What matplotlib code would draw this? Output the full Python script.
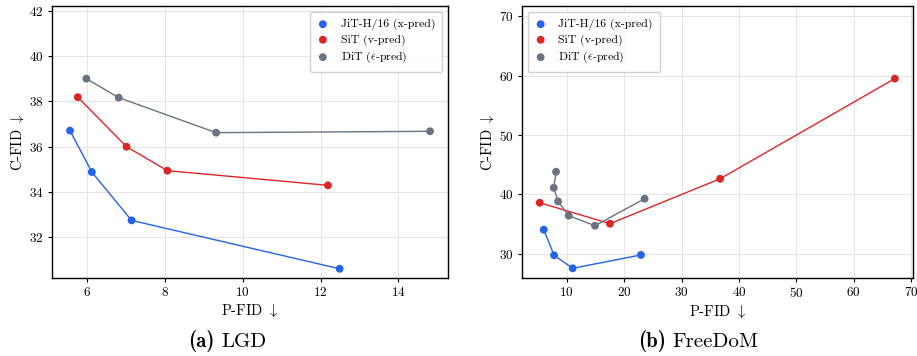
import matplotlib
matplotlib.use("Agg")
import matplotlib.pyplot as plt

plt.rcParams['font.family'] = ['cmr10', 'DejaVu Serif']
plt.rcParams['mathtext.fontset'] = 'cm'
plt.rcParams['axes.formatter.use_mathtext'] = True
plt.rcParams['axes.unicode_minus'] = False

series_names = ["JiT-H/16 (x-pred)", "SiT (v-pred)", r"DiT ($\epsilon$-pred)"]
colors = ["#2563eb", "#dc2626", "#6b7280"]

# (a) LGD
lgd_jit_x = [5.57, 6.13, 7.15, 12.49]
lgd_jit_y = [36.71, 34.88, 32.74, 30.60]
lgd_sit_x = [5.77, 7.02, 8.07, 12.19]
lgd_sit_y = [38.19, 36.00, 34.94, 34.29]
lgd_dit_x = [5.99, 6.82, 9.32, 14.81]
lgd_dit_y = [39.01, 38.17, 36.62, 36.68]

# (b) FreeDoM
fd_jit_x = [6.0, 7.8, 11.04, 22.93]
fd_jit_y = [34.05, 29.73, 27.54, 29.79]
fd_sit_x = [5.30, 17.54, 36.72, 67.16]
fd_sit_y = [38.59, 35.06, 42.63, 59.51]
fd_dit_x = [8.14, 7.74, 8.49, 10.35, 14.93, 23.57]
fd_dit_y = [43.81, 41.12, 38.82, 36.41, 34.72, 39.27]

fig = plt.figure(figsize=(9.17, 3.56), dpi=100)
ax1 = fig.add_axes([0.0567, 0.219, 0.4319, 0.764])
ax2 = fig.add_axes([0.569, 0.219, 0.4264, 0.764])

def draw(ax, data, loc, ylim):
    for (xs, ys), name, c in zip(data, series_names, colors):
        ax.plot(xs, ys, color=c, lw=1.0, zorder=2)
        ax.scatter(xs, ys, color=c, s=32, zorder=3, label=name, edgecolors='none')
    ax.set_ylim(*ylim)
    ax.grid(True, color='#e5e5e5', lw=0.7, zorder=0)
    ax.set_axisbelow(True)
    ax.tick_params(labelsize=9.5, length=3, pad=3)
    ax.set_xlabel(r"P-FID $\downarrow$", fontsize=10.5, labelpad=2)
    ax.set_ylabel(r"C-FID $\downarrow$", fontsize=10.5, labelpad=2)
    for s in ax.spines.values():
        s.set_linewidth(1.0)
    ax.legend(loc=loc, fontsize=8.5, frameon=True, framealpha=0.9,
              edgecolor='#cccccc', handletextpad=1.0, borderpad=0.6,
              labelspacing=0.35, handlelength=1.0)

draw(ax1, [(lgd_jit_x, lgd_jit_y), (lgd_sit_x, lgd_sit_y), (lgd_dit_x, lgd_dit_y)],
     'upper right', (30.19, 42.22))
draw(ax2, [(fd_jit_x, fd_jit_y), (fd_sit_x, fd_sit_y), (fd_dit_x, fd_dit_y)],
     'upper left', (25.9, 71.74))
ax1.set_xticks([6, 8, 10, 12, 14])
ax1.set_yticks([32, 34, 36, 38, 40, 42])
ax2.set_xticks([10, 20, 30, 40, 50, 60, 70])
ax2.set_yticks([30, 40, 50, 60, 70])
ax2.set_xlim(2.17, 70.29)

cap_y = 0.025
fig.text(0.234, cap_y, "(a)", fontsize=15, fontfamily='cmb10', ha='right', va='baseline')
fig.text(0.241, cap_y, "LGD", fontsize=15, ha='left', va='baseline')
fig.text(0.726, cap_y, "(b)", fontsize=15, fontfamily='cmb10', ha='right', va='baseline')
fig.text(0.733, cap_y, "FreeDoM", fontsize=15, ha='left', va='baseline')

fig.savefig("out.png", dpi=100)
